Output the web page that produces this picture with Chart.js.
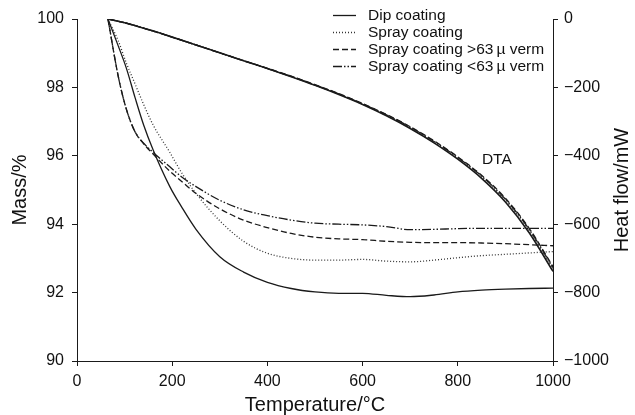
<!DOCTYPE html>
<html><head><meta charset="utf-8">
<script src="https://cdn.jsdelivr.net/npm/chart.js@4.4.0/dist/chart.umd.min.js"></script>
<style>html,body{margin:0;padding:0;background:#fff}#wrap{width:635px;height:415px}</style>
</head><body><div id="wrap"><canvas id="c" width="635" height="415"></canvas></div>
<script>
// ---- data ----
const seriesNames = ['Dip coating', 'Spray coating', 'Spray coating >63\u2009\u00b5 verm', 'Spray coating <63\u2009\u00b5 verm'];

const tempTG = [65, 87, 104, 122, 140, 160, 195, 220, 250, 300, 350, 400, 450, 500, 550, 600, 650, 700, 750, 800, 850, 900, 950, 1000];
const massDip    = [100, 99.2, 98.55, 97.7, 96.9, 96.17, 95.1, 94.5, 93.85, 93.05, 92.6, 92.3, 92.12, 92.02, 91.98, 91.98, 91.92, 91.88, 91.93, 92.02, 92.07, 92.1, 92.12, 92.13];
const massSpray  = [100, 99.35, 98.7, 98.1, 97.5, 96.9, 96.1, 95.5, 94.9, 94.1, 93.5, 93.15, 93.0, 92.95, 92.95, 92.97, 92.92, 92.9, 92.95, 93.02, 93.08, 93.12, 93.16, 93.2];
const massCoarse = [100, 98.3, 97.35, 96.7, 96.35, 96.05, 95.55, 95.25, 94.9, 94.45, 94.12, 93.9, 93.73, 93.62, 93.57, 93.55, 93.5, 93.47, 93.46, 93.46, 93.45, 93.43, 93.4, 93.37];
const massFine   = [100, 98.3, 97.35, 96.7, 96.37, 96.1, 95.68, 95.38, 95.1, 94.7, 94.42, 94.25, 94.12, 94.03, 94.0, 93.98, 93.93, 93.84, 93.85, 93.87, 93.88, 93.88, 93.88, 93.88];

const tempDTA = [65, 100, 150, 200, 250, 300, 350, 400, 450, 500, 550, 600, 650, 700, 750, 800, 850, 900, 950, 1000];
const dtaDip    = [0, -11, -31, -53, -76, -99, -122, -145, -169, -194, -221, -250, -283, -320, -362, -410, -466, -535, -625, -738];
const dtaSpray  = [0, -11, -31, -53, -76, -99, -122, -145, -168, -193, -220, -249, -282, -318, -360, -407, -462, -530, -619, -730];
const dtaCoarse = [0, -11, -31, -53, -76, -99, -122, -144, -167, -192, -218, -247, -279, -315, -356, -403, -457, -524, -612, -724];
const dtaFine   = [0, -11, -31, -53, -76, -99, -122, -145, -168, -193, -219, -248, -280, -316, -358, -405, -459, -527, -615, -727];

const xTicks = [0, 200, 400, 600, 800, 1000];
const massTicks = [90, 92, 94, 96, 98, 100];
const heatTicks = [-1000, -800, -600, -400, -200, 0];

// ---- styles ----
const INK = '#1a1a1a';
const styles = [
  {dash: [], width: 1.3, color: INK},
  {dash: [1, 2], width: 1.3, color: '#333'},
  {dash: [6, 3], width: 1.3, color: INK},
  {dash: [9, 2, 1.5, 2, 1.5, 2], width: 1.3, color: INK}
];
const pts = (xs, ys) => xs.map((x, i) => ({x, y: ys[i]}));
const tgSeries = [massDip, massSpray, massCoarse, massFine];
const dtaSeries = [dtaDip, dtaSpray, dtaCoarse, dtaFine];

const datasets = [];
tgSeries.forEach((s, i) => datasets.push({
  label: seriesNames[i], data: pts(tempTG, s), yAxisID: 'y',
  borderColor: styles[i].color, borderDash: styles[i].dash, borderWidth: styles[i].width,
  pointRadius: 0, cubicInterpolationMode: 'monotone', fill: false
}));
dtaSeries.forEach((s, i) => datasets.push({
  label: seriesNames[i] + ' DTA', data: pts(tempDTA, s), yAxisID: 'y2',
  borderColor: styles[i].color, borderDash: styles[i].dash, borderWidth: i === 0 ? 1.6 : 1.3,
  pointRadius: 0, cubicInterpolationMode: 'monotone', fill: false
}));

const FONT = '"Liberation Sans", Arial, Helvetica, sans-serif';

const legendPlugin = {
  id: 'customLegend',
  afterDraw(chart) {
    const ctx = chart.ctx;
    ctx.save();
    ctx.font = '15.5px ' + FONT;
    ctx.textBaseline = 'middle';
    ctx.textAlign = 'left';
    const rowY = [15, 32, 49, 66];
    seriesNames.forEach((name, i) => {
      const st = styles[i];
      ctx.strokeStyle = st.color;
      ctx.lineWidth = st.width;
      ctx.setLineDash(st.dash);
      ctx.beginPath();
      ctx.moveTo(333, rowY[i] + 0.5);
      ctx.lineTo(356, rowY[i] + 0.5);
      ctx.stroke();
      ctx.setLineDash([]);
      ctx.fillStyle = '#111';
      ctx.fillText(name, 368, rowY[i] + 1);
    });
    // DTA label
    const xs = chart.scales.x, y2 = chart.scales.y2;
    ctx.font = '15.5px ' + FONT;
    ctx.textAlign = 'center';
    ctx.fillText('DTA', xs.getPixelForValue(882), y2.getPixelForValue(-412));
    // right axis title, reading bottom-to-top
    ctx.font = '20px ' + FONT;
    ctx.translate(622, (chart.chartArea.top + chart.chartArea.bottom) / 2);
    ctx.rotate(-Math.PI / 2);
    ctx.textAlign = 'center';
    ctx.textBaseline = 'middle';
    ctx.fillText('Heat flow/mW', 0, 0);
    ctx.restore();
  }
};

const axisCommon = {
  grid: {drawOnChartArea: false, drawTicks: true, tickLength: 5, color: INK, lineWidth: 1},
  border: {display: true, color: INK, width: 1}
};

new Chart(document.getElementById('c'), {
  type: 'line',
  data: {datasets},
  options: {
    responsive: false, animation: false, devicePixelRatio: 1,
    layout: {padding: {top: 19, right: 0, left: 0, bottom: 0}},
    plugins: {legend: {display: false}, tooltip: {enabled: false}},
    scales: {
      x: {
        type: 'linear', position: 'bottom', min: 0, max: 1000,
        afterBuildTicks: s => { s.ticks = xTicks.map(v => ({value: v})); },
        afterFit: s => { s.height = 54; },
        ticks: {color: '#111', font: {family: FONT, size: 16}, padding: 6, maxRotation: 0,
          callback: v => String(v)},
        title: {display: true, text: 'Temperature/\u00b0C', color: '#111', font: {family: FONT, size: 20, lineHeight: 1}, padding: {top: 0, bottom: 0}},
        ...axisCommon
      },
      y: {
        type: 'linear', position: 'left', min: 90, max: 100,
        afterBuildTicks: s => { s.ticks = massTicks.map(v => ({value: v})); },
        afterFit: s => { s.width = 77; },
        ticks: {color: '#111', font: {family: FONT, size: 16}, padding: 8},
        title: {display: true, text: 'Mass/%', color: '#111', font: {family: FONT, size: 20, lineHeight: 1}, padding: {top: 10, bottom: 0}},
        ...axisCommon
      },
      y2: {
        type: 'linear', position: 'right', min: -1000, max: 0,
        afterBuildTicks: s => { s.ticks = heatTicks.map(v => ({value: v})); },
        afterFit: s => { s.width = 82; },
        ticks: {color: '#111', font: {family: FONT, size: 16}, padding: 6,
          callback: v => String(v).replace('-', '\u2212')},
        title: {display: false},
        ...axisCommon
      }
    }
  },
  plugins: [legendPlugin]
});
</script>
</body></html>
